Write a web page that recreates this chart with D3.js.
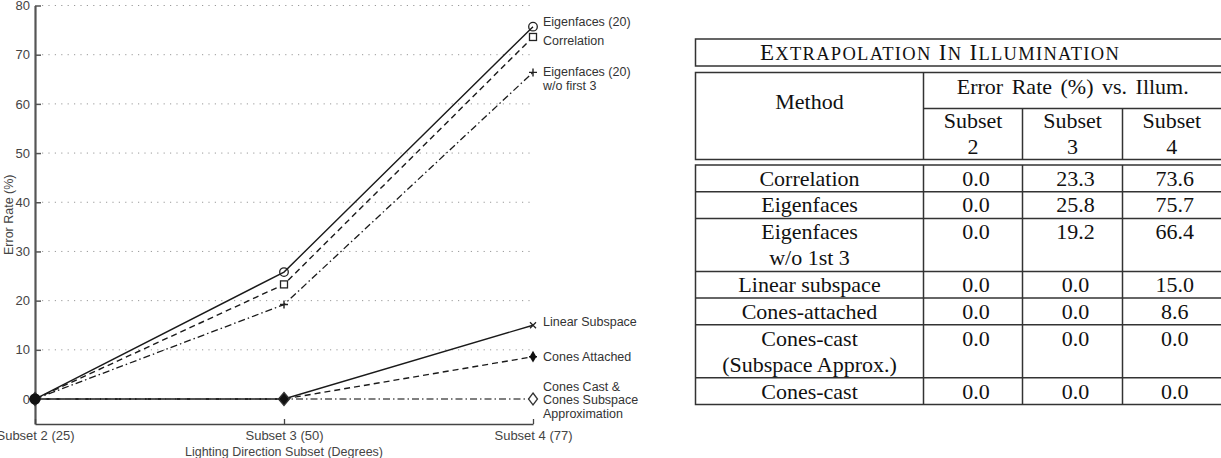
<!DOCTYPE html>
<html><head><meta charset="utf-8">
<script src="https://cdn.jsdelivr.net/npm/d3@7"></script>
<style>body{margin:0;background:#fff;} svg{display:block;}</style>
</head><body><svg id="c" width="1221" height="458"></svg>
<script>
// ---------- DATA ----------
const xCategories = ["Subset 2 (25)", "Subset 3 (50)", "Subset 4 (77)"];
const yTicks = [0, 10, 20, 30, 40, 50, 60, 70, 80];
const seriesLabels = [["Eigenfaces (20)"], ["Correlation"], ["Eigenfaces (20)", "w/o first 3"],
  ["Linear Subspace"], ["Cones Attached"], ["Cones Cast &", "Cones Subspace", "Approximation"]];
const eigenfaces20 = [0, 25.8, 75.7];
const correlation = [0, 23.3, 73.6];
const eigenfacesWo3 = [0, 19.2, 66.4];
const linearSubspace = [0, 0, 15.0];
const conesAttached = [0, 0, 8.6];
const conesCast = [0, 0, 0];
const xTitle = "Lighting Direction Subset (Degrees)";
const yTitle = "Error Rate (%)";

const tableTitle = [["E", 1], ["XTRAPOLATION", 0], [" ", 1], ["I", 1], ["N", 0], [" ", 1], ["I", 1], ["LLUMINATION", 0]];
const tableMethodHeader = "Method";
const tableGroupHeader = "Error Rate (%) vs. Illum.";
const tableSubsetHeaders = [["Subset", "2"], ["Subset", "3"], ["Subset", "4"]];
const tableMethods = [["Correlation"], ["Eigenfaces"], ["Eigenfaces", "w/o 1st 3"], ["Linear subspace"],
  ["Cones-attached"], ["Cones-cast", "(Subspace Approx.)"], ["Cones-cast"]];
const errSubset2 = ["0.0", "0.0", "0.0", "0.0", "0.0", "0.0", "0.0"];
const errSubset3 = ["23.3", "25.8", "19.2", "0.0", "0.0", "0.0", "0.0"];
const errSubset4 = ["73.6", "75.7", "66.4", "15.0", "8.6", "0.0", "0.0"];

// ---------- STYLE ----------
const allSeries = [eigenfaces20, correlation, eigenfacesWo3, linearSubspace, conesAttached, conesCast];
const style = [
  {dash: null, color: "#1a1a1a", w: 1.4, marker: "circle", labelDy: -4.2},
  {dash: "6,4", color: "#1a1a1a", w: 1.4, marker: "square", labelDy: 4},
  {dash: "7,3,1.5,3", color: "#1a1a1a", w: 1.3, marker: "plus", labelDy: 0},
  {dash: null, color: "#1a1a1a", w: 1.4, marker: "cross", labelDy: -3},
  {dash: "6,4", color: "#1a1a1a", w: 1.4, marker: "star", labelDy: 0.7},
  {dash: "7,3,1.5,3", color: "#555", w: 1.7, marker: "diamond", labelDy: -12.3}
];

const svg = d3.select("#c");
const FONT = "'Liberation Sans', Arial, sans-serif";
const SERIF = "'Liberation Serif', 'Times New Roman', serif";

// ---------- CHART ----------
const x = d3.scalePoint().domain(xCategories).range([35, 533]);
const y = d3.scaleLinear().domain([-5.08, 80]).range([424, 5.5]);

const g = svg.append("g");
// grid
g.selectAll("line.grid").data(yTicks.filter(d => d > 0)).join("line")
  .attr("x1", x.range()[0] + 7).attr("x2", x.range()[1])
  .attr("y1", d => y(d)).attr("y2", d => y(d))
  .attr("stroke", "#999").attr("stroke-width", 1).attr("stroke-dasharray", "1.2,5.2");

// axes
const yAxis = g.append("g").attr("transform", `translate(${x.range()[0]},0)`)
  .call(d3.axisLeft(y).tickValues(yTicks).tickSize(-6).tickSizeOuter(0).tickPadding(5));
yAxis.select(".domain").attr("stroke", "#555").attr("stroke-width", 2.2);
yAxis.selectAll(".tick line").attr("stroke", "#555").attr("stroke-width", 1.5);
yAxis.selectAll("text").attr("font-family", FONT).attr("font-size", 13).attr("fill", "#444");

const xAxis = g.append("g").attr("transform", `translate(0,${y.range()[0]})`)
  .call(d3.axisBottom(x).tickSize(-5).tickSizeOuter(0).tickPadding(7));
xAxis.select(".domain").attr("stroke", "#444").attr("stroke-width", 1.6);
xAxis.selectAll(".tick line").attr("stroke", "#444").attr("stroke-width", 1.3);
xAxis.selectAll("text").attr("font-family", FONT).attr("font-size", 13).attr("fill", "#444");

g.append("text").attr("x", x(xCategories[1])).attr("y", 456).attr("text-anchor", "middle")
  .attr("font-family", FONT).attr("font-size", 12.5).attr("fill", "#444").text(xTitle);
g.append("text").attr("transform", `translate(9,${(y.range()[0] + y.range()[1]) / 2}) rotate(-90)`)
  .attr("text-anchor", "middle").attr("dominant-baseline", "central")
  .attr("font-family", FONT).attr("font-size", 12.5).attr("fill", "#444").text(yTitle);

// lines
const line = d3.line().x((d, i) => x(xCategories[i])).y(d => y(d));
allSeries.forEach((s, k) => {
  const st = style[k];
  g.append("path").datum(s).attr("d", line).attr("fill", "none")
    .attr("stroke", st.color).attr("stroke-width", st.w)
    .attr("stroke-dasharray", st.dash);
});
// markers
allSeries.forEach((s, k) => {
  const st = style[k];
  s.forEach((v, i) => {
    const cx = x(xCategories[i]), cy = y(v);
    const m = g.append("g").attr("transform", `translate(${cx},${cy})`);
    if (st.marker === "circle") {
      m.append("circle").attr("r", 4.3).attr("fill", "none").attr("stroke", "#222").attr("stroke-width", 1.3);
    } else if (st.marker === "square") {
      m.append("rect").attr("x", -3.5).attr("y", -3.5).attr("width", 7).attr("height", 7)
        .attr("fill", "#fff").attr("stroke", "#222").attr("stroke-width", 1.3);
    } else if (st.marker === "plus") {
      m.append("path").attr("d", "M-4,0H4M0,-4V4").attr("stroke", "#222").attr("stroke-width", 1.4);
    } else if (st.marker === "cross") {
      m.append("path").attr("d", "M-3,-3L3,3M-3,3L3,-3").attr("stroke", "#222").attr("stroke-width", 1.3);
    } else if (st.marker === "star") {
      m.append("path").attr("d", d3.symbol(d3.symbolDiamond, 40)()).attr("fill", "#111");
      m.append("path").attr("d", "M-4,0H4M0,-4V4").attr("stroke", "#111").attr("stroke-width", 1.6);
    } else if (st.marker === "diamond") {
      const filled = i < s.length - 1;
      m.append("path").attr("d", filled ? "M0,-6.5L5.5,0L0,6.5L-5.5,0Z" : "M0,-6L4.5,0L0,6L-4.5,0Z")
        .attr("fill", filled ? "#111" : "#fff").attr("stroke", "#333").attr("stroke-width", 1.3);
      if (i === 0) m.append("circle").attr("r", 5.5).attr("fill", "#111");
    }
  });
});
// series labels
allSeries.forEach((s, k) => {
  const t = g.append("text").attr("x", x.range()[1] + 10)
    .attr("y", y(s[s.length - 1]) + style[k].labelDy)
    .attr("dominant-baseline", "central")
    .attr("font-family", FONT).attr("font-size", 12.5).attr("fill", "#333");
  seriesLabels[k].forEach((ln, j) => {
    t.append("tspan").attr("x", x.range()[1] + 10).attr("dy", j === 0 ? 0 : 13.6).text(ln);
  });
});

// ---------- TABLE ----------
const tx0 = 695.5, tx1 = 1229;
const colX = [tx0, 923.5, 1022.5, 1122.5, tx1];
const TS = 22;
const LH = 26.3;
const tg = svg.append("g").attr("font-family", SERIF).attr("fill", "#111");
const lineStyle = sel => sel.attr("stroke", "#333").attr("stroke-width", 1.5).attr("fill", "none");

// title box
tg.append("rect").attr("x", tx0).attr("y", 39).attr("width", tx1 - tx0).attr("height", 27).call(lineStyle);
const tt = tg.append("text").attr("x", 940).attr("y", 59.5).attr("text-anchor", "middle")
  .attr("letter-spacing", 1.3);
tableTitle.forEach(([s, big]) => tt.append("tspan").attr("font-size", big ? 23 : 18.5).text(s));

// header box
const hy0 = 72.5, hy1 = 159.5, hyMid = 108.5;
tg.append("rect").attr("x", tx0).attr("y", hy0).attr("width", tx1 - tx0).attr("height", hy1 - hy0).call(lineStyle);
tg.append("line").attr("x1", colX[1]).attr("x2", colX[1]).attr("y1", hy0).attr("y2", hy1).call(lineStyle);
tg.append("line").attr("x1", colX[1]).attr("x2", tx1).attr("y1", hyMid).attr("y2", hyMid).call(lineStyle);
[2, 3].forEach(c => tg.append("line").attr("x1", colX[c]).attr("x2", colX[c]).attr("y1", hyMid).attr("y2", hy1).call(lineStyle));
tg.append("text").attr("x", (colX[0] + colX[1]) / 2).attr("y", 101).attr("text-anchor", "middle")
  .attr("dominant-baseline", "central").attr("font-size", TS).text(tableMethodHeader);
tg.append("text").attr("x", (colX[1] + 1222) / 2).attr("y", 86).attr("text-anchor", "middle")
  .attr("dominant-baseline", "central").attr("font-size", TS).attr("word-spacing", 3).text(tableGroupHeader);
tableSubsetHeaders.forEach((lines, c) => {
  lines.forEach((ln, j) => {
    tg.append("text").attr("x", (colX[c + 1] + colX[c + 2]) / 2 + (c === 2 ? -4 : 0)).attr("y", 120 + j * LH)
      .attr("text-anchor", "middle").attr("dominant-baseline", "central").attr("font-size", TS).text(ln);
  });
});

// body
const by0 = 165;
const rowH = tableMethods.map(m => m.length === 1 ? 26.7 : 53);
let rowY = [by0];
rowH.forEach((h, i) => rowY.push(rowY[i] + h));
const by1 = rowY[rowY.length - 1];
tg.append("rect").attr("x", tx0).attr("y", by0).attr("width", tx1 - tx0).attr("height", by1 - by0).call(lineStyle);
rowY.slice(1, -1).forEach(yy => tg.append("line").attr("x1", tx0).attr("x2", tx1).attr("y1", yy).attr("y2", yy).call(lineStyle));
[1, 2, 3].forEach(c => tg.append("line").attr("x1", colX[c]).attr("x2", colX[c]).attr("y1", by0).attr("y2", by1).call(lineStyle));
const valueCols = [errSubset2, errSubset3, errSubset4];
tableMethods.forEach((lines, r) => {
  const top = rowY[r] + 13.2;
  lines.forEach((ln, j) => {
    tg.append("text").attr("x", (colX[0] + colX[1]) / 2).attr("y", top + j * LH)
      .attr("text-anchor", "middle").attr("dominant-baseline", "central").attr("font-size", TS).text(ln);
  });
  valueCols.forEach((col, c) => {
    tg.append("text").attr("x", (colX[c + 1] + colX[c + 2]) / 2 + (c === 2 ? -1 : 3)).attr("y", top)
      .attr("text-anchor", "middle").attr("dominant-baseline", "central").attr("font-size", TS).text(col[r]);
  });
});
</script></body></html>
